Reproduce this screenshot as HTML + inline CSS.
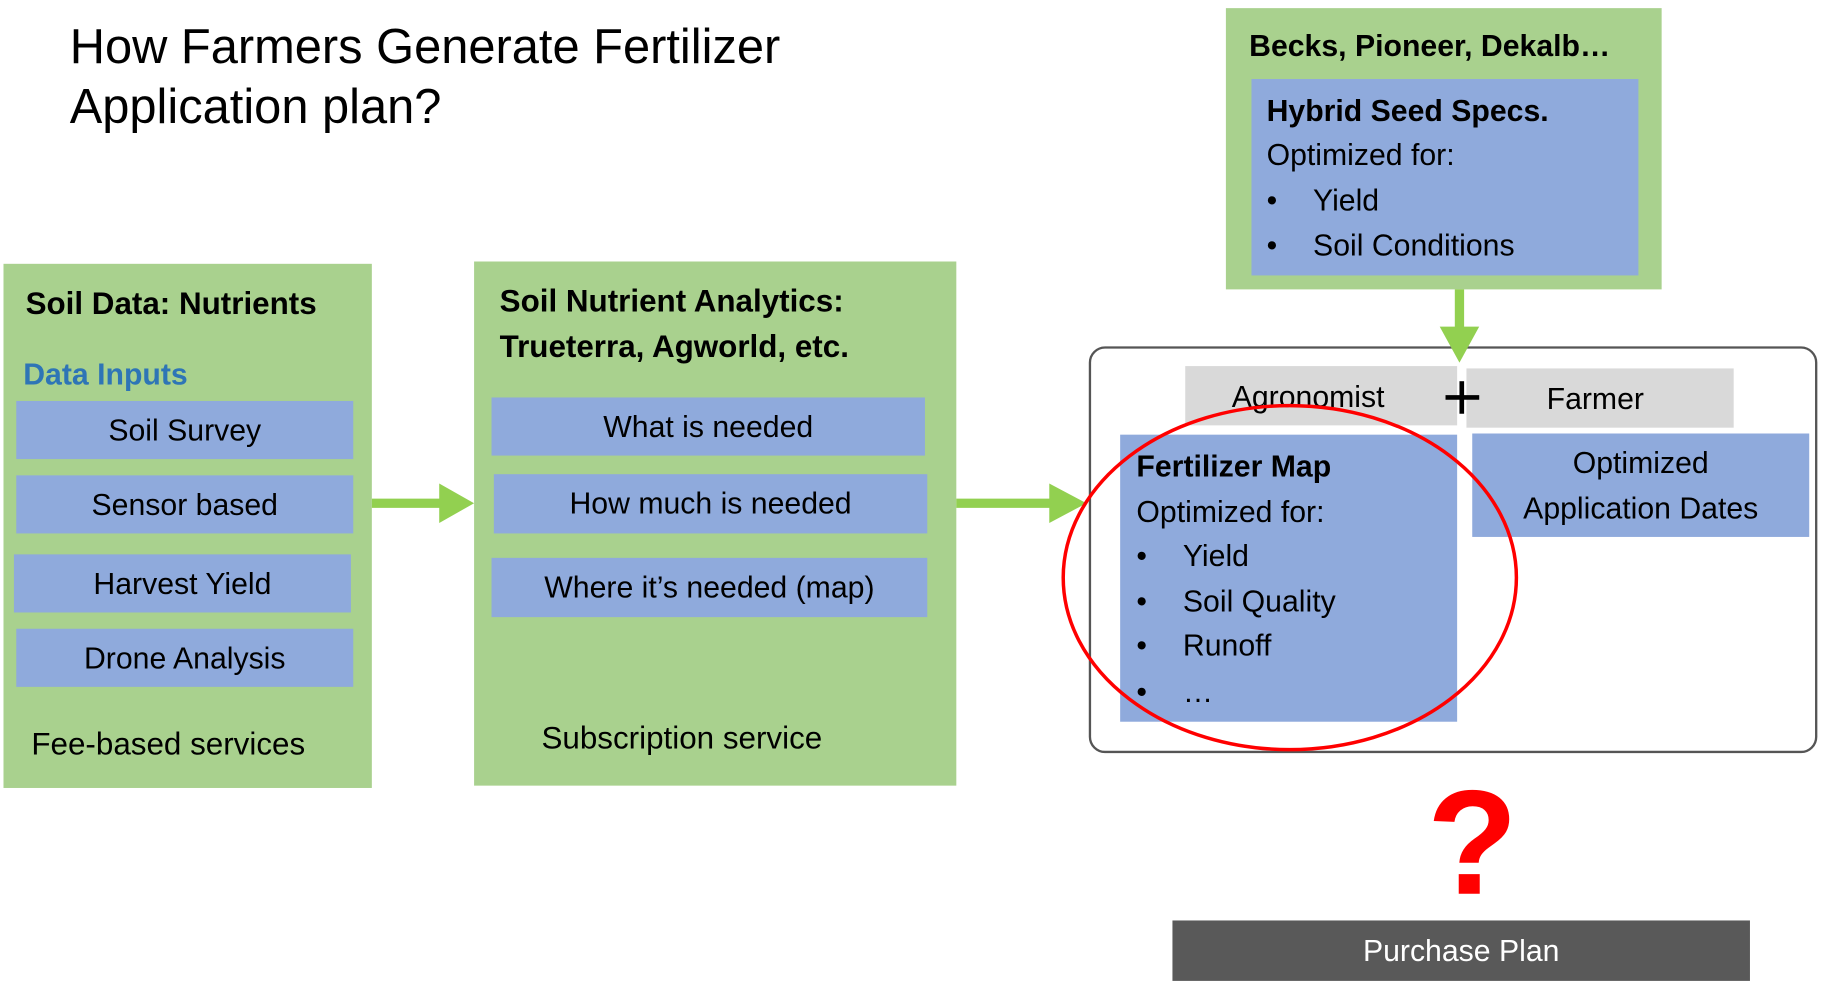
<!DOCTYPE html>
<html><head><meta charset="utf-8"><style>
html,body{margin:0;padding:0;background:#fff;width:1822px;height:996px;overflow:hidden}
#w{position:absolute;left:0;top:0;width:1568px;height:857px;transform-origin:0 0;transform:scale(1.16199,1.1622);font-family:"Liberation Sans",sans-serif}
.a{position:absolute}
.g{position:absolute;background:#a9d18e}
.b{position:absolute;background:#8faadc;display:flex;align-items:center;justify-content:center;font-size:26px;color:#000}
.t{position:absolute;white-space:nowrap;font-size:26px;color:#000;line-height:1}
.bd{font-weight:bold}
</style></head><body><div id="w">
<div class="t" style="left:60px;top:14px;font-size:42px;line-height:52px">How Farmers Generate Fertilizer<br>Application plan?</div>

<div class="g" style="left:3px;top:227px;width:317px;height:451px"></div>
<div class="t bd" style="left:22px;top:248px;font-size:27px">Soil Data: Nutrients</div>
<div class="t bd" style="left:20px;top:309px;font-size:26px;color:#2e75b6">Data Inputs</div>
<div class="b" style="left:14px;top:345px;width:290px;height:50px">Soil Survey</div>
<div class="b" style="left:14px;top:409px;width:290px;height:50px">Sensor based</div>
<div class="b" style="left:12px;top:477px;width:290px;height:50px">Harvest Yield</div>
<div class="b" style="left:14px;top:541px;width:290px;height:50px">Drone Analysis</div>
<div class="t" style="left:27px;top:627px;font-size:27px">Fee-based services</div>

<div class="g" style="left:408px;top:225px;width:415px;height:451px"></div>
<div class="t bd" style="left:430px;top:240px;font-size:27px;line-height:39px">Soil Nutrient Analytics:<br>Trueterra, Agworld, etc.</div>
<div class="b" style="left:423px;top:342px;width:373px;height:50px">What is needed</div>
<div class="b" style="left:425px;top:408px;width:373px;height:51px">How much is needed</div>
<div class="b" style="left:423px;top:480px;width:375px;height:51px">Where it’s needed (map)</div>
<div class="t" style="left:466px;top:622px;font-size:27px">Subscription service</div>

<div class="g" style="left:1055px;top:7px;width:375px;height:242px"></div>
<div class="t bd" style="left:1075px;top:26px;font-size:26px">Becks, Pioneer, Dekalb…</div>
<div class="a" style="left:1077px;top:68px;width:333px;height:169px;background:#8faadc"></div>
<div class="t bd" style="left:1090px;top:82px">Hybrid Seed Specs.</div>
<div class="t" style="left:1090px;top:120px">Optimized for:</div>
<div class="t" style="left:1090px;top:159px">•</div><div class="t" style="left:1130px;top:159px">Yield</div>
<div class="t" style="left:1090px;top:198px">•</div><div class="t" style="left:1130px;top:198px">Soil Conditions</div>

<div class="a" style="left:937px;top:298px;width:627px;height:350px;border:2px solid #555;border-radius:14px;box-sizing:border-box"></div>
<div class="a" style="left:1020px;top:315px;width:234px;height:51px;background:#d9d9d9"></div>
<div class="t" style="left:1060px;top:328px">Agronomist</div>
<div class="a" style="left:1262px;top:317px;width:230px;height:51px;background:#d9d9d9"></div>
<div class="t" style="left:1331px;top:330px">Farmer</div>
<div class="a" style="left:964px;top:374px;width:290px;height:247px;background:#8faadc"></div>
<div class="t bd" style="left:978px;top:388px">Fertilizer Map</div>
<div class="t" style="left:978px;top:427px">Optimized for:</div>
<div class="t" style="left:978px;top:465px">•</div><div class="t" style="left:1018px;top:465px">Yield</div>
<div class="t" style="left:978px;top:504px">•</div><div class="t" style="left:1018px;top:504px">Soil Quality</div>
<div class="t" style="left:978px;top:542px">•</div><div class="t" style="left:1018px;top:542px">Runoff</div>
<div class="t" style="left:978px;top:582px">•</div><div class="t" style="left:1018px;top:582px">…</div>
<div class="a" style="left:1267px;top:373px;width:290px;height:89px;background:#8faadc;text-align:center;font-size:26px;line-height:39px;padding-top:6px;box-sizing:border-box">Optimized<br>Application Dates</div>

<svg class="a" style="left:0;top:0" width="1568" height="857">
<line x1="320" y1="433" x2="382" y2="433" stroke="#92d050" stroke-width="8"/>
<polygon points="378,416 408,433 378,450" fill="#92d050"/>
<line x1="823" y1="433" x2="907" y2="433" stroke="#92d050" stroke-width="8"/>
<polygon points="903,416 935,433 903,450" fill="#92d050"/>
<line x1="1256" y1="249" x2="1256" y2="285" stroke="#92d050" stroke-width="8"/>
<polygon points="1239,281 1273,281 1256,312" fill="#92d050"/>
<line x1="1258" y1="328" x2="1258" y2="356" stroke="#000" stroke-width="4"/>
<line x1="1244" y1="342" x2="1273" y2="342" stroke="#000" stroke-width="4"/>
<ellipse cx="1110" cy="497" rx="195" ry="148" fill="none" stroke="#ff0000" stroke-width="3"/>
</svg>

<div class="t bd" style="left:1228px;top:662px;font-size:128px;color:#ff0000;line-height:1">?</div>
<div class="a" style="left:1009px;top:792px;width:497px;height:52px;background:#595959;color:#fff;font-size:26px;display:flex;align-items:center;justify-content:center">Purchase Plan</div>
</div></body></html>
